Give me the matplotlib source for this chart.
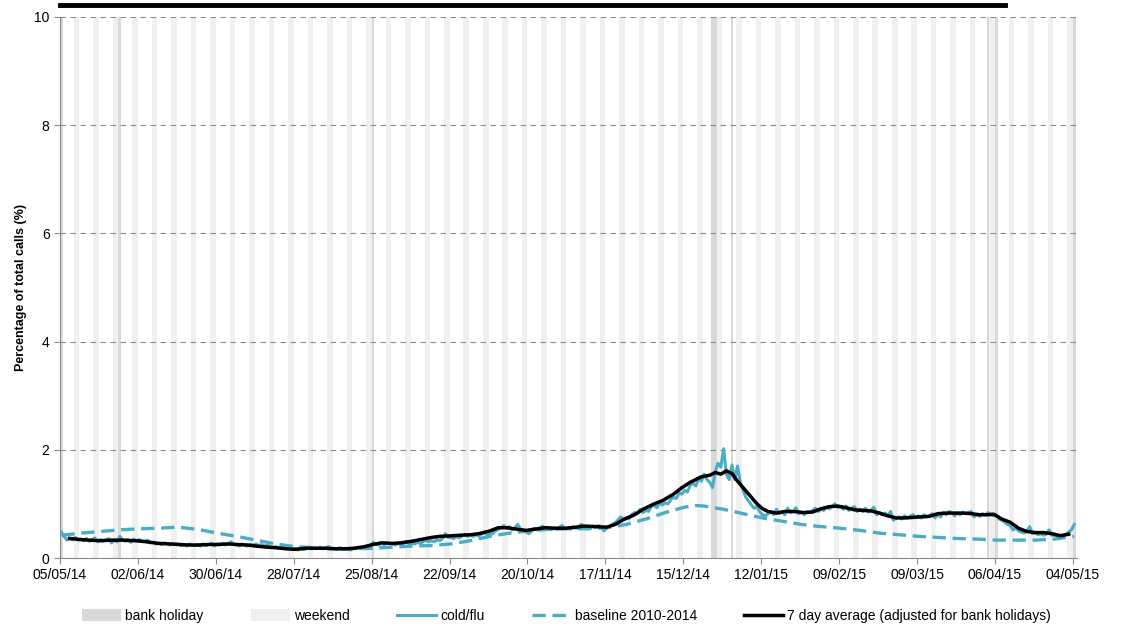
import matplotlib
matplotlib.use("Agg")
from matplotlib import pyplot as plt
from matplotlib.patches import Patch
from matplotlib.lines import Line2D
import pandas as pd
import numpy as np

plt.rcParams['font.family'] = ['Liberation Sans', 'DejaVu Sans']

start = pd.Timestamp("2014-05-05")
bank_holidays = ["2014-05-05", "2014-05-26", "2014-08-25", "2014-12-25", "2014-12-26",
                 "2015-01-01", "2015-04-03", "2015-04-06", "2015-05-04"]
tick_labels = ["05/05/14", "02/06/14", "30/06/14", "28/07/14", "25/08/14", "22/09/14", "20/10/14",
               "17/11/14", "15/12/14", "12/01/15", "09/02/15", "09/03/15", "06/04/15", "04/05/15"]

# daily cold/flu %, one row per week (Mon..Sun), from 05/05/14
cold_flu = [
    0.48, 0.40, 0.33, 0.37, 0.34, 0.38, 0.33,
    0.35, 0.32, 0.36, 0.31, 0.34, 0.37, 0.30,
    0.34, 0.31, 0.33, 0.36, 0.28, 0.33, 0.30,
    0.40, 0.33, 0.31, 0.34, 0.29, 0.35, 0.32,
    0.34, 0.30, 0.31, 0.33, 0.28, 0.29, 0.26,
    0.27, 0.25, 0.28, 0.26, 0.24, 0.27, 0.25,
    0.26, 0.23, 0.25, 0.22, 0.26, 0.24, 0.23,
    0.25, 0.22, 0.26, 0.23, 0.25, 0.27, 0.22,
    0.26, 0.24, 0.27, 0.24, 0.26, 0.30, 0.25,
    0.24, 0.22, 0.26, 0.23, 0.22, 0.25, 0.24,
    0.26, 0.23, 0.25, 0.22, 0.24, 0.21, 0.20,
    0.21, 0.19, 0.20, 0.18, 0.17, 0.19, 0.16,
    0.17, 0.15, 0.18, 0.16, 0.17, 0.19, 0.17,
    0.19, 0.18, 0.20, 0.17, 0.19, 0.21, 0.18,
    0.18, 0.16, 0.19, 0.17, 0.18, 0.16, 0.15,
    0.18, 0.17, 0.19, 0.18, 0.20, 0.23, 0.22,
    0.29, 0.26, 0.24, 0.27, 0.25, 0.28, 0.26,
    0.26, 0.24, 0.27, 0.25, 0.27, 0.30, 0.26,
    0.27, 0.26, 0.29, 0.27, 0.30, 0.33, 0.30,
    0.32, 0.30, 0.34, 0.32, 0.36, 0.45, 0.38,
    0.38, 0.36, 0.40, 0.37, 0.41, 0.44, 0.40,
    0.42, 0.40, 0.43, 0.41, 0.44, 0.47, 0.43,
    0.44, 0.45, 0.50, 0.53, 0.56, 0.60, 0.55,
    0.58, 0.52, 0.56, 0.62, 0.54, 0.50, 0.48,
    0.45, 0.50, 0.55, 0.52, 0.56, 0.59, 0.53,
    0.56, 0.52, 0.55, 0.53, 0.57, 0.60, 0.54,
    0.55, 0.54, 0.58, 0.55, 0.59, 0.62, 0.56,
    0.57, 0.55, 0.59, 0.56, 0.60, 0.58, 0.50,
    0.55, 0.58, 0.62, 0.65, 0.70, 0.76, 0.72,
    0.74, 0.72, 0.80, 0.84, 0.82, 0.90, 0.84,
    0.88, 0.86, 0.95, 0.97, 0.93, 1.02, 0.98,
    1.02, 1.00, 1.08, 1.12, 1.10, 1.20, 1.18,
    1.25, 1.22, 1.35, 1.38, 1.33, 1.48, 1.42,
    1.55, 1.45, 1.40, 1.30, 1.60, 1.75, 1.68,
    2.02, 1.55, 1.45, 1.72, 1.45, 1.70, 1.40,
    1.25, 1.12, 1.05, 0.98, 0.92, 0.95, 0.85,
    0.80, 0.78, 0.82, 0.86, 0.80, 0.90, 0.82,
    0.85, 0.80, 0.92, 0.84, 0.86, 0.93, 0.82,
    0.84, 0.80, 0.86, 0.84, 0.88, 0.92, 0.86,
    0.90, 0.88, 0.94, 0.91, 0.95, 1.00, 0.93,
    0.95, 0.90, 0.96, 0.88, 0.92, 0.95, 0.86,
    0.90, 0.86, 0.92, 0.85, 0.88, 0.94, 0.80,
    0.84, 0.80, 0.83, 0.78, 0.86, 0.70, 0.74,
    0.76, 0.72, 0.78, 0.74, 0.77, 0.80, 0.75,
    0.78, 0.74, 0.80, 0.76, 0.78, 0.82, 0.74,
    0.80, 0.76, 0.84, 0.80, 0.86, 0.84, 0.78,
    0.83, 0.80, 0.85, 0.82, 0.84, 0.86, 0.76,
    0.80, 0.77, 0.82, 0.79, 0.84, 0.80, 0.78,
    0.80, 0.72, 0.70, 0.66, 0.62, 0.60, 0.52,
    0.55, 0.50, 0.48, 0.46, 0.50, 0.58, 0.45,
    0.46, 0.43, 0.45, 0.42, 0.44, 0.52, 0.42,
    0.42, 0.40, 0.43, 0.41, 0.43, 0.48, 0.52,
    0.62,
]

# 7 day average: (days after 05/05/14, value)
avg_days = [3, 7, 10, 14, 18, 22, 26, 29, 32, 35, 39, 42, 46, 49, 53, 56, 60, 63, 67, 70,
            74, 77, 81, 84, 88, 91, 95, 98, 102, 105, 109, 112, 115, 119, 122, 126, 129, 133, 136, 140,
            143, 147, 150, 154, 157, 160, 164, 167, 171, 174, 178, 181, 185, 188, 192, 196, 199, 202, 206, 209,
            213, 216, 220, 223, 226, 230, 233, 235, 237, 239, 241, 243, 245, 248, 250, 252, 254, 257, 260, 263,
            267, 270, 273, 276, 279, 282, 285, 288, 291, 294, 297, 300, 303, 306, 309, 312, 315, 318, 321, 324,
            327, 330, 333, 335, 338, 341, 344, 347, 350, 353, 356, 359, 362]
avg_vals = [0.36, 0.34, 0.33, 0.32, 0.33, 0.33, 0.32, 0.31, 0.29, 0.27, 0.26, 0.25, 0.24, 0.24, 0.25, 0.25, 0.26, 0.25, 0.24, 0.22,
            0.20, 0.19, 0.17, 0.16, 0.18, 0.18, 0.18, 0.17, 0.17, 0.18, 0.21, 0.25, 0.28, 0.27, 0.28, 0.31, 0.34, 0.38, 0.40, 0.41,
            0.42, 0.43, 0.45, 0.50, 0.56, 0.56, 0.53, 0.51, 0.54, 0.56, 0.55, 0.55, 0.57, 0.59, 0.58, 0.57, 0.62, 0.71, 0.80, 0.90,
            1.00, 1.06, 1.18, 1.30, 1.40, 1.50, 1.53, 1.58, 1.55, 1.61, 1.56, 1.42, 1.30, 1.12, 1.00, 0.91, 0.86, 0.83, 0.86, 0.86,
            0.84, 0.85, 0.91, 0.95, 0.96, 0.93, 0.89, 0.88, 0.87, 0.83, 0.78, 0.74, 0.74, 0.75, 0.76, 0.77, 0.82, 0.83, 0.83, 0.83,
            0.82, 0.80, 0.80, 0.81, 0.72, 0.66, 0.55, 0.49, 0.47, 0.47, 0.45, 0.41, 0.44]

# baseline 2010-2014
base_days = [0, 7, 14, 21, 28, 35, 42, 49, 56, 63, 70, 77, 84, 91, 98, 105, 112, 119, 126, 133,
             140, 147, 154, 161, 168, 175, 182, 189, 196, 203, 210, 217, 224, 228, 231, 238, 245, 252, 259, 266,
             273, 280, 287, 294, 301, 308, 315, 322, 329, 336, 343, 350, 357, 364]
base_vals = [0.42, 0.46, 0.49, 0.52, 0.54, 0.55, 0.57, 0.53, 0.46, 0.40, 0.33, 0.26, 0.21, 0.19, 0.17, 0.17, 0.18, 0.20, 0.22, 0.23,
             0.26, 0.32, 0.40, 0.46, 0.50, 0.53, 0.54, 0.54, 0.56, 0.62, 0.72, 0.84, 0.94, 0.97, 0.96, 0.90, 0.82, 0.74, 0.68, 0.62,
             0.58, 0.55, 0.51, 0.46, 0.43, 0.40, 0.38, 0.36, 0.35, 0.33, 0.33, 0.33, 0.35, 0.40]

teal = '#4bacc6'
fig = plt.figure(figsize=(11.22, 6.26), dpi=100)
ax = fig.add_axes([60 / 1122, 1 - 558 / 626, 1017 / 1122, 541 / 626])

# day shading
days = pd.date_range(start, periods=366)
bh = set(pd.to_datetime(bank_holidays))
for i, d in enumerate(days):
    if d in bh:
        ax.axvspan(i, i + 1, color='#d9d9d9', lw=0, zorder=0)
    elif d.dayofweek >= 5:
        ax.axvspan(i, i + 1, color='#f0f0f0', lw=0, zorder=0)

x_cf = np.arange(len(cold_flu)) + 0.5
ax.plot(x_cf, cold_flu, color=teal, lw=2.2, zorder=3)
ax.plot(np.array(base_days) + 0.5, base_vals, color=teal, lw=2.4, ls=(0, (4, 2)), zorder=3)
ax.plot(np.array(avg_days) + 0.5, avg_vals, color='black', lw=2.5, zorder=4)

ax.set_xlim(0, 365.5)
ax.set_ylim(0, 10)
ax.set_yticks([0, 2, 4, 6, 8, 10])
ax.yaxis.grid(True, color='#8c8c8c', ls=(0, (5, 4)), lw=0.8)
ax.set_axisbelow(False)
for gl in ax.get_ygridlines():
    gl.set_zorder(1)
ax.set_xticks(np.arange(len(tick_labels)) * 28)
ax.set_xticklabels(tick_labels)
ax.tick_params(axis='both', labelsize=10, color='#8c8c8c', length=4)
ax.tick_params(axis='x', pad=3)
for s in ['top', 'right']:
    ax.spines[s].set_visible(False)
for s in ['left', 'bottom']:
    ax.spines[s].set_color('#8c8c8c')
ax.set_ylabel('Percentage of total calls (%)', fontsize=9, fontweight='bold', labelpad=5)

handles = [Patch(color='#d9d9d9', lw=0), Patch(color='#f0f0f0', lw=0),
           Line2D([], [], color=teal, lw=2.2), Line2D([], [], color=teal, lw=2.4, ls=(0, (4, 2))),
           Line2D([], [], color='black', lw=2.5)]
labels = ['bank holiday', 'weekend', 'cold/flu', 'baseline 2010-2014', '7 day average (adjusted for bank holidays)']
fig.legend(handles, labels, loc='center', bbox_to_anchor=(0.505, 1 - 616 / 626), ncol=5, frameon=False,
           fontsize=10, handlelength=2.8, handleheight=0.9, columnspacing=3.4, handletextpad=0.3,
           borderpad=0, borderaxespad=0)

fig.add_artist(Line2D([60 / 1122, 1005 / 1122], [1 - 5 / 626, 1 - 5 / 626], color='black', lw=3.5))

fig.savefig('out.png', dpi=100)
